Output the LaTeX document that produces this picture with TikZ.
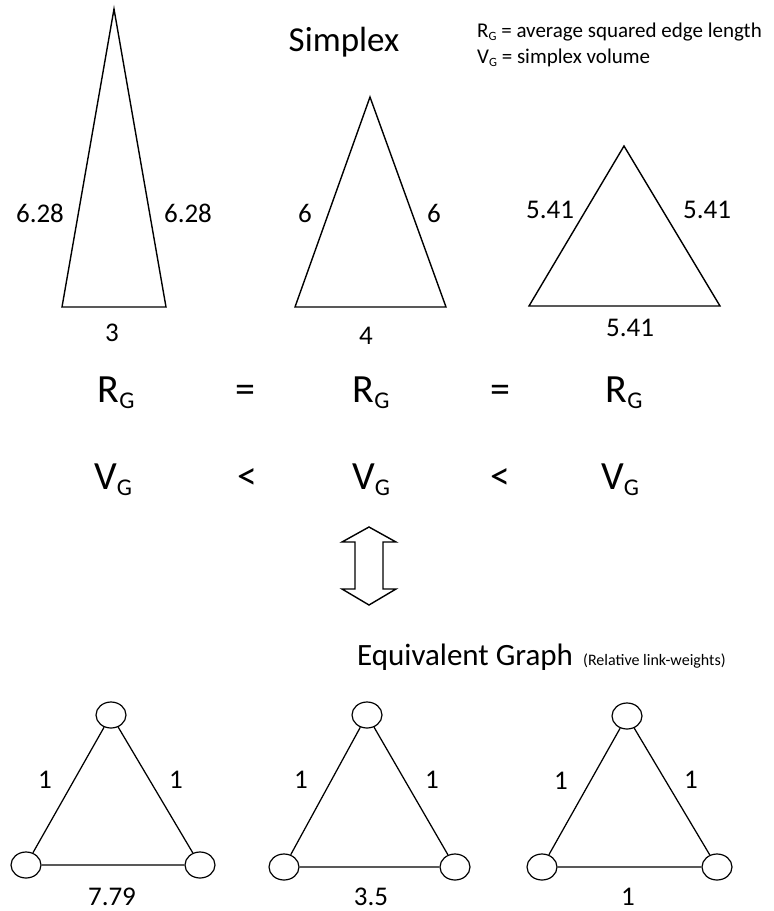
\documentclass[tikz,border=0pt]{standalone}
\usepackage{fontspec}
\setmainfont{Carlito}
\usepackage{xcolor}
\definecolor{ink}{HTML}{000000}
\usepackage{tikz}
\usetikzlibrary{positioning, arrows.meta, shapes.geometric, calc}
\newcommand{\lowsub}[1]{\raisebox{-0.15em}{\scalebox{0.6}{#1}}}
\tikzset{
    vertex/.style = {ellipse, draw=ink, fill=white, line width=1.2pt,
                     minimum width=30pt, minimum height=26pt, inner sep=0pt},
    edge/.style = {draw=ink, line width=1.25pt},
    simplex/.style = {draw=ink, line width=1.4pt},
    weight/.style = {font=\fontsize{27}{30}\selectfont, color=ink, inner sep=0pt},
    big/.style = {font=\fontsize{40}{44}\selectfont, color=ink, inner sep=0pt, anchor=base},
    note/.style = {font=\fontsize{21}{24}\selectfont, color=ink, inner sep=0pt, anchor=base west},
    heading/.style = {font=\fontsize{35}{40}\selectfont, color=ink, inner sep=0pt},
}

\begin{document}
\begin{tikzpicture}[x=1pt, y=-1pt]
        \useasboundingbox (0,0) rectangle (774,911);
        % simplices
        \coordinate (t1) at (114,9);  \coordinate (l1) at (62,307);  \coordinate (r1) at (166,307);
        \coordinate (t2) at (370,97); \coordinate (l2) at (295,307); \coordinate (r2) at (446,307);
        \coordinate (t3) at (624,146); \coordinate (l3) at (529,306); \coordinate (r3) at (720,306);
        \draw[simplex] (t1) -- (l1) -- (r1) -- cycle;
        \draw[simplex] (t2) -- (l2) -- (r2) -- cycle;
        \draw[simplex] (t3) -- (l3) -- (r3) -- cycle;
        \node[weight] (s1l) at (40,213)  {6.28};
        \node[weight] (s1r) at (188,213) {6.28};
        \node[weight] (s1b) at (112,333) {3};
        \node[weight] (s2l) at (305,213) {6};
        \node[weight] (s2r) at (434,213) {6};
        \node[weight] (s2b) at (366,336) {4};
        \node[weight] (s3l) at (550,210) {5.41};
        \node[weight] (s3r) at (707,210) {5.41};
        \node[weight] (s3b) at (630,328) {5.41};
        \node[heading, anchor=base] (simplex) at (344,51) {Simplex};
        \node[note] (rdef) at (477,37) {R\lowsub{G} = average squared edge length};
        \node[note] (vdef) at (477,63) {V\lowsub{G} = simplex volume};
        % comparison rows
        \node[big] (rg1) at (116,402) {R\lowsub{G}};
        \node[big] (eq1) at (245,402) {=};
        \node[big] (rg2) at (371,402) {R\lowsub{G}};
        \node[big] (eq2) at (500,402) {=};
        \node[big] (rg3) at (624,402) {R\lowsub{G}};
        \node[big] (vg1) at (113,489) {V\lowsub{G}};
        \node[big] (lt1) at (247,489) {<};
        \node[big] (vg2) at (371,489) {V\lowsub{G}};
        \node[big] (lt2) at (500,489) {<};
        \node[big] (vg3) at (620,489) {V\lowsub{G}};
        % double arrow
        \draw[simplex, fill=white, line join=miter]
            (369,527) -- (396,542) -- (383,542) -- (383,589) -- (396,589) -- (369,605)
            -- (342,589) -- (355,589) -- (355,542) -- (342,542) -- cycle;
        \node[heading, font=\fontsize{31}{36}\selectfont, anchor=base west] (equiv) at (357,665) {Equivalent Graph};
        \node[note, font=\fontsize{16}{20}\selectfont] (rel) at (583,665) {(Relative link-weights)};
        % graphs
        \node[vertex] (a1) at (111,715) {};
        \node[vertex] (b1) at (26,865)  {};
        \node[vertex] (c1) at (200,865) {};
        \node[vertex] (a2) at (367,715) {};
        \node[vertex] (b2) at (284,867) {};
        \node[vertex] (c2) at (455,867) {};
        \node[vertex] (a3) at (627,716) {};
        \node[vertex] (b3) at (542,867) {};
        \node[vertex] (c3) at (717,867) {};
        \foreach \g in {1,2,3} {
            \draw[edge] (a\g) -- (b\g) -- (c\g) -- (a\g);
        }
        \node[weight] (w1l) at (45,780)  {1};
        \node[weight] (w1r) at (176,780) {1};
        \node[weight] (w1b) at (112,897) {7.79};
        \node[weight] (w2l) at (301,780) {1};
        \node[weight] (w2r) at (432,780) {1};
        \node[weight] (w2b) at (371,897) {3.5};
        \node[weight] (w3l) at (561,781) {1};
        \node[weight] (w3r) at (691,780) {1};
        \node[weight] (w3b) at (628,897) {1};
      \end{tikzpicture}
\end{document}
